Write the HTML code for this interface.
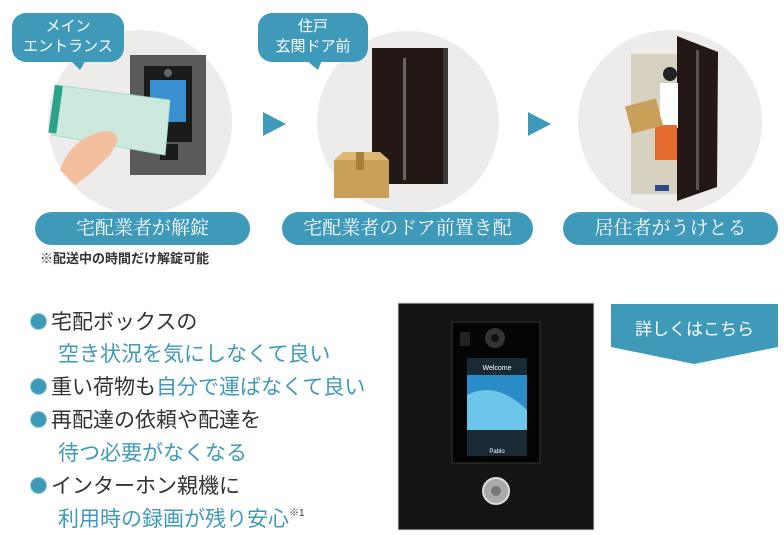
<!DOCTYPE html>
<html><head><meta charset="utf-8"><style>
body{margin:0;width:784px;height:535px;background:#fff;position:relative;overflow:hidden;font-family:"Liberation Sans","Noto Sans CJK JP",sans-serif}
.a{position:absolute}
.pill{position:absolute;background:#3f9aba;color:#fff;border-radius:17px;text-align:center;font-family:"Liberation Serif","Noto Serif CJK SC",serif;font-size:19px;line-height:33px;letter-spacing:0px}
.bl{position:absolute;left:30px;font-size:21px;line-height:24px;color:#333;white-space:nowrap}
.bl b{color:#3f9aba;font-weight:normal}
.dot{display:inline-block;width:15px;height:15px;border-radius:50%;background:#3f9aba;border:1px solid #8cc;margin-right:4px;vertical-align:-1px}
.ind{left:58px;color:#3f9aba}
</style></head><body>
<svg class="a" style="left:0;top:0" width="784" height="270">
<circle cx="140" cy="122" r="92" fill="#eeeceb"/>
<circle cx="408" cy="122" r="91" fill="#eeeceb"/>
<circle cx="670" cy="122" r="92" fill="#eeeceb"/>
<rect x="12" y="13" width="112" height="49" rx="14" fill="#3f9aba"/>
<polygon points="70,60 86,60 80,70" fill="#3f9aba"/>
<rect x="258" y="13" width="110" height="49" rx="14" fill="#3f9aba"/>
<polygon points="306,60 322,60 318,70" fill="#3f9aba"/>
<rect x="130" y="55" width="76" height="120" fill="#5a5a5a"/>
<rect x="144" y="66" width="48" height="76" fill="#1b1b1b"/>
<circle cx="168" cy="73" r="4" fill="#666"/>
<rect x="150" y="80" width="36" height="42" fill="#3a8fd0"/>
<rect x="160" y="144" width="18" height="16" fill="#1b1b1b"/>
<polygon points="55,85 170,100 165,155 52,135" fill="#cde9de" stroke="#a7d9c8"/>
<rect x="55" y="85" width="8" height="48" fill="#2aa38a" transform="rotate(8 55 85)"/>
<path d="M60,170 Q70,140 100,132 Q115,128 118,140 L110,155 Q90,175 75,185 Z" fill="#f4bf9f"/>
<polygon points="263,112 286,124 263,136" fill="#3f9aba"/>
<polygon points="528,112 551,124 528,136" fill="#3f9aba"/>
<rect x="372" y="48" width="75" height="136" fill="#231815"/>
<rect x="443" y="48" width="5" height="136" fill="#3a3a3a"/>
<rect x="403" y="58" width="3" height="122" fill="#666"/>
<rect x="334" y="160" width="55" height="38" fill="#c9a05a"/>
<polygon points="334,160 389,160 380,152 343,152" fill="#dcb877"/>
<rect x="356" y="152" width="8" height="18" fill="#a8803d"/>
<rect x="631" y="54" width="48" height="140" fill="#d7d1bf"/>
<polygon points="677,36 718,52 717,187 677,201" fill="#231815"/>
<rect x="696" y="50" width="3" height="140" fill="#555"/>
<circle cx="670" cy="74" r="7" fill="#222"/>
<rect x="660" y="83" width="18" height="45" fill="#fff"/>
<rect x="655" y="125" width="22" height="35" fill="#e66b2e"/>
<rect x="628" y="102" width="32" height="28" fill="#c9a05a" transform="rotate(-15 644 116)"/>
<rect x="655" y="185" width="14" height="6" fill="#2b4b8c"/>
</svg>
<div class="a" style="left:12px;top:17px;width:112px;text-align:center;color:#fff;font-size:15px;line-height:20px">メイン<br>エントランス</div>
<div class="a" style="left:258px;top:17px;width:110px;text-align:center;color:#fff;font-size:15px;line-height:20px">住戸<br>玄関ドア前</div>
<div class="pill" style="left:35px;top:212px;width:215px">宅配業者が解錠</div>
<div class="pill" style="left:282px;top:212px;width:251px">宅配業者のドア前置き配</div>
<div class="pill" style="left:563px;top:212px;width:215px">居住者がうけとる</div>
<div class="a" style="left:40px;top:248px;font-size:13px;font-weight:bold;color:#333">※配送中の時間だけ解錠可能</div>

<div class="bl" style="top:311px"><span class="dot"></span>宅配ボックスの</div>
<div class="bl ind" style="top:343px">空き状況を気にしなくて良い</div>
<div class="bl" style="top:376px"><span class="dot"></span>重い荷物も<b>自分で運ばなくて良い</b></div>
<div class="bl" style="top:409px"><span class="dot"></span>再配達の依頼や配達を</div>
<div class="bl ind" style="top:442px">待つ必要がなくなる</div>
<div class="bl" style="top:475px"><span class="dot"></span>インターホン親機に</div>
<div class="bl ind" style="top:508px">利用時の録画が残り安心<span style="font-size:10px;color:#333;vertical-align:top;line-height:12px">※1</span></div>

<svg class="a" style="left:396px;top:300px" width="200" height="232">
<rect x="2" y="3" width="196" height="227" fill="#141414" stroke="#ddd"/>
<rect x="56" y="22" width="88" height="141" fill="#050505" stroke="#333"/>
<rect x="64" y="32" width="10" height="14" fill="#222"/>
<circle cx="99" cy="38" r="10" fill="#333"/><circle cx="99" cy="38" r="4" fill="#111"/>
<rect x="71" y="58" width="60" height="98" fill="#1a2a35"/>
<rect x="71" y="75" width="60" height="55" fill="#2a8cc8"/>
<path d="M71,95 Q100,80 131,110 L131,130 L71,130Z" fill="#6cc6ea"/>
<text x="101" y="70" font-size="7" fill="#fff" text-anchor="middle" font-family="Liberation Sans">Welcome</text>
<text x="101" y="153" font-size="6" fill="#fff" text-anchor="middle" font-family="Liberation Sans">Pablo</text>
<circle cx="100" cy="191" r="13" fill="#aaa" stroke="#ddd" stroke-width="2"/><circle cx="100" cy="191" r="5" fill="#777"/>
</svg>

<svg class="a" style="left:610px;top:303px" width="170" height="62">
<polygon points="1,1 168,1 168,44 84,61 1,44" fill="#3f9aba"/>
</svg>
<div class="a" style="left:611px;top:315px;width:167px;text-align:center;color:#fff;font-size:17px">詳しくはこちら</div>
</body></html>
